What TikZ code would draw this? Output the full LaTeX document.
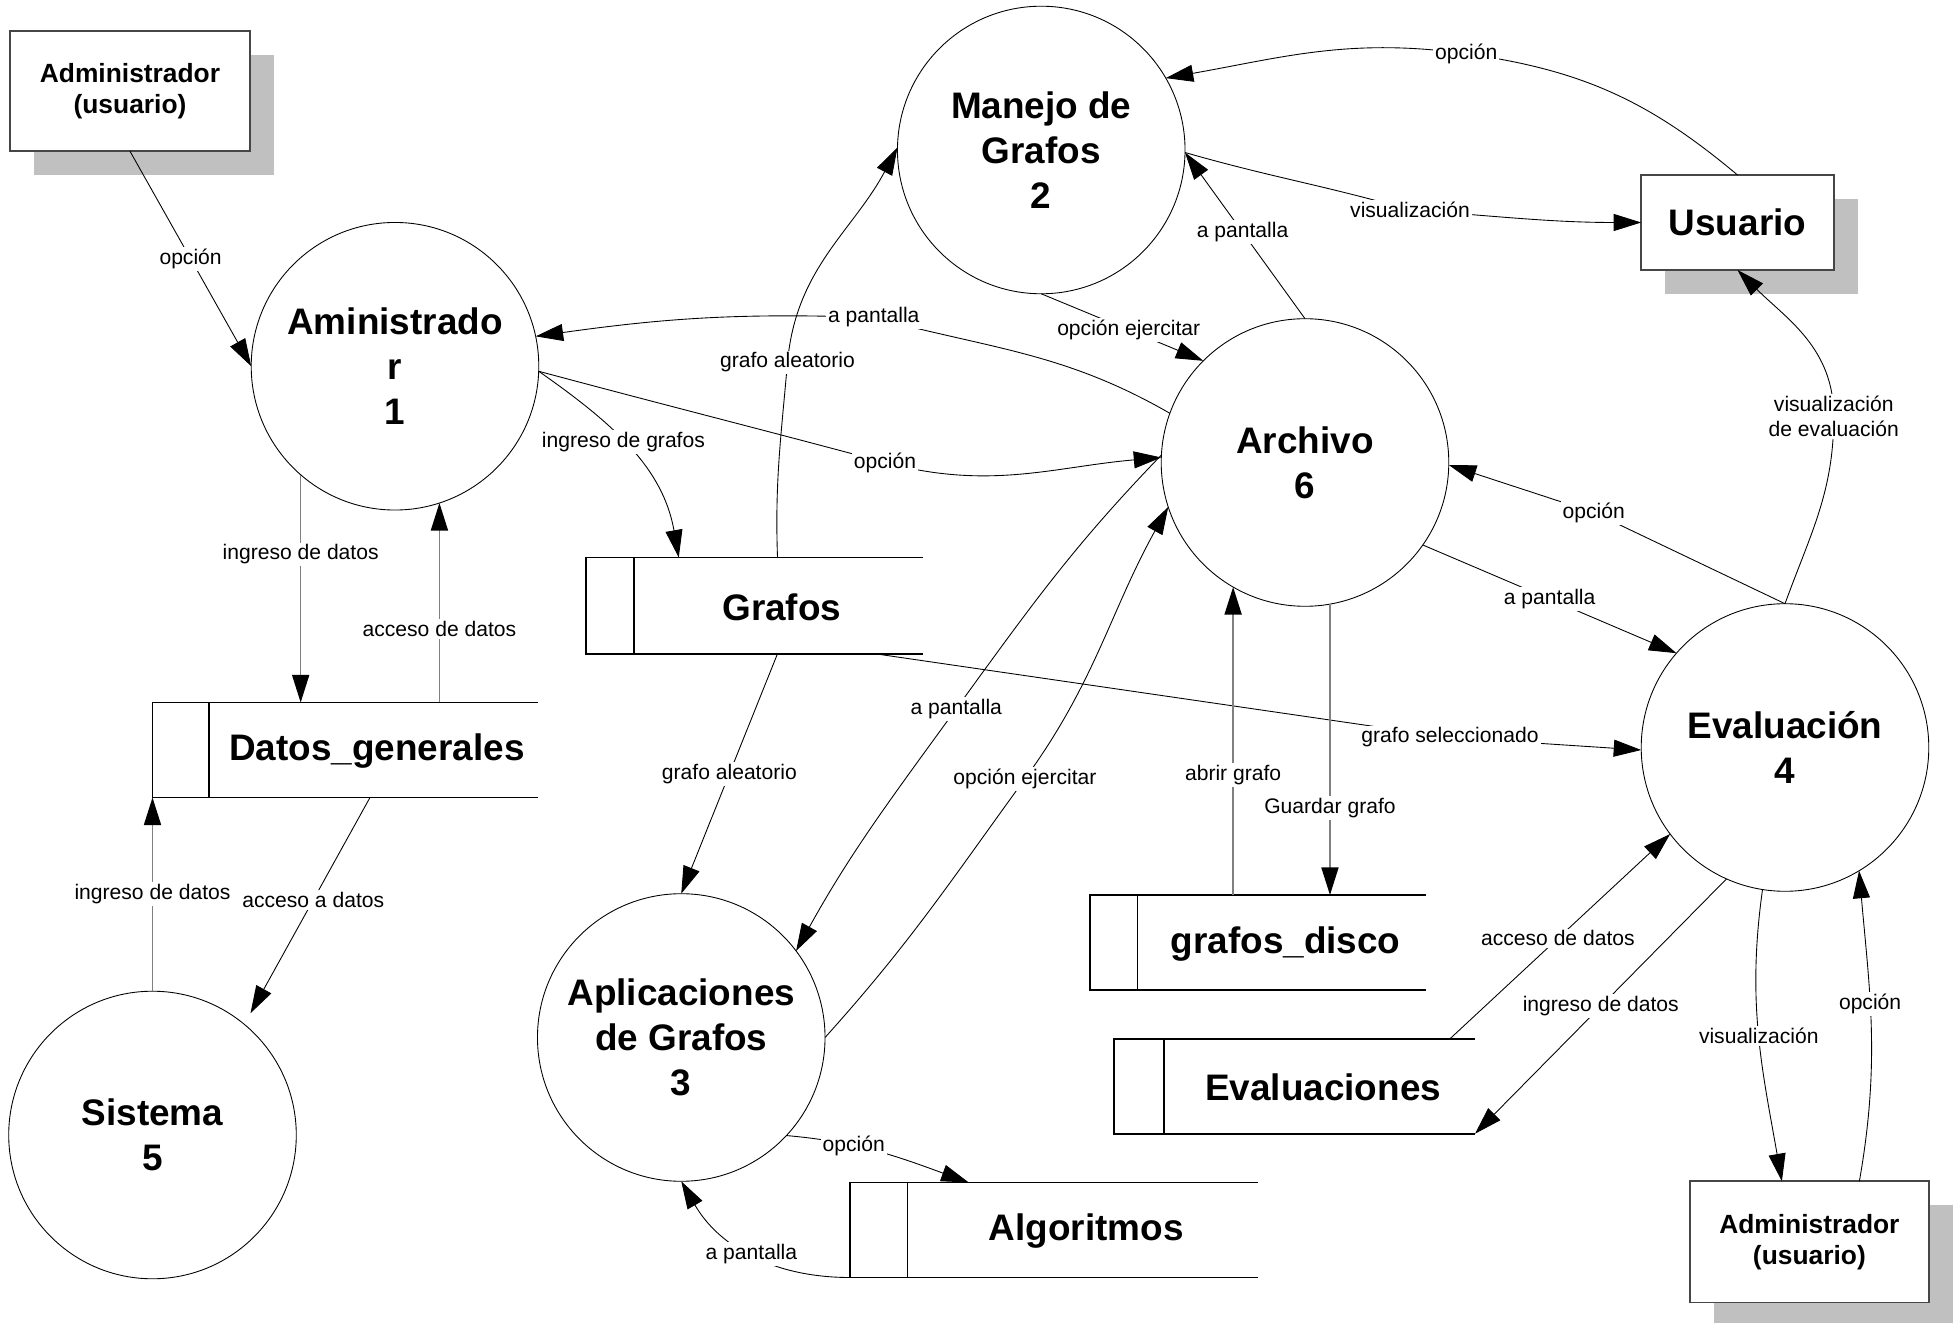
\documentclass[tikz,border=0pt]{standalone}
\usepackage{fontspec}
\setmainfont{Liberation Sans}
\usetikzlibrary{arrows.meta,calc,fit,shadows}

\definecolor{shadowgray}{RGB}{192,192,192}
\definecolor{flowgray}{RGB}{128,128,128}
\definecolor{boxline}{RGB}{70,70,70}

\newcommand\labfont{\fontsize{12}{14.2}\selectfont}
\newcommand\procfont{\bfseries\fontsize{21}{25.5}\selectfont}
\newcommand\extfont{\bfseries\fontsize{15}{17.7}\selectfont}

\tikzset{
  proc/.style={circle, draw, line width=0.5pt, minimum size=5.75cm, inner sep=0pt,
    outer sep=0pt, align=center, font=\procfont},
  ext/.style={draw=boxline, line width=0.9pt, fill=white, align=center, inner sep=0pt,
    outer sep=0pt, drop shadow={shadow xshift=0.475cm, shadow yshift=-0.475cm,
    fill=shadowgray, opacity=1}},
  lab/.style={fill=white, inner sep=1.2pt, font=\labfont, align=center},
  flow/.style={-{Triangle[length=0.55cm, width=0.34cm, color=black]}, line width=0.5pt, draw=black},
  grayflow/.style={flow, draw=flowgray, line width=0.9pt},
  storeline/.style={line width=1.1pt, draw=black},
  storetext/.style={font=\procfont},
}

% data store: name, x1, y1, x2, y2, divider x, title
\newcommand\datastore[7]{%
  \node[fit={(#2,#3) (#4,#5)}, inner sep=0pt, outer sep=0pt] (#1) {};
  \draw[storeline] (#1.north east) -- (#1.north west) -- (#1.south west) -- (#1.south east);
  \draw[storeline] (#6,#3) -- (#6,#5);
  \node[storetext] (#1-t) at ({0.5*(#6)+0.5*(#4)+3},{0.5*(#3)+0.5*(#5)-1}) {#7};
}

\begin{document}
\begin{tikzpicture}[x=0.025cm, y=0.025cm]
\useasboundingbox (0,0) rectangle (1568,-1058.4);

% processes
\node[proc] (p1) at (316,-293) {Aministrado\\r\\1};
\node[proc] (p2) at (833,-120) {Manejo de\\Grafos\\2};
\node[proc] (p3) at (545,-830) {Aplicaciones\\de Grafos\\3};
\node[proc] (p4) at (1428,-598) {Evaluación\\4};
\node[proc] (p5) at (122,-908) {Sistema\\5};
\node[proc] (p6) at (1044,-370) {Archivo\\6};

% external entities
\node[ext, minimum width=4.8cm, minimum height=2.4cm, font=\extfont] (e1) at (104,-73) {Administrador\\(usuario)};
\node[ext, minimum width=3.85cm, minimum height=1.9cm, font=\procfont] (e2) at (1390,-178) {Usuario};
\node[ext, minimum width=4.775cm, minimum height=2.425cm, font=\extfont] (e3) at (1447.5,-993.5) {Administrador\\(usuario)};

% data stores
\datastore{sg}{469}{-446}{738}{-523}{507}{Grafos}
\datastore{sd}{122}{-562}{430}{-638}{167}{Datos\_generales}
\datastore{sk}{872}{-716}{1141}{-792}{910}{grafos\_disco}
\datastore{se}{891}{-831}{1180}{-907}{931}{Evaluaciones}
\datastore{sa}{680}{-946}{1006}{-1022}{726}{Algoritmos}

% Administrador -> Aministrador
\draw[flow] (e1.south) -- node[lab, pos=0.5] {opción} (p1.180);

% Aministrador <-> Datos_generales
\draw[grayflow] (p1.229) -- node[lab, pos=0.35] {ingreso de datos} (p1.229 |- sd.north);
\draw[grayflow] (p1.288 |- sd.north) -- node[lab, pos=0.37] {acceso de datos} (p1.288);

% Sistema <-> Datos_generales
\draw[grayflow] (p5.north) -- node[lab, pos=0.5] {ingreso de datos} (p5.north |- sd.south);
\draw[flow] ($(sd.south west)+(174,0)$) -- node[lab, pos=0.475] {acceso a datos} ($(p5.51)+(6,8)$);

% Aministrador -> Grafos, Archivo
\draw[flow] (p1.-2) to[out=-35, in=100] node[lab, pos=0.45] {ingreso de grafos} ($(sg.north west)+(74,0)$);
\draw[flow] (p1.-2) to[out=-15, in=165] (708,-370) node[lab] {opción} to[out=-15, in=185] (p6.178);

% Archivo -> Aministrador
\draw[flow] (p6.160) to[out=150, in=-15] (699,-254) node[lab] {a pantalla} to[out=178, in=8] (p1.12);

% Grafos -> Manejo de Grafos
\draw[flow] ($(sg.north west)+(153,0)$) to[out=92, in=265] (630,-290) node[lab] {grafo aleatorio} to[out=85, in=242] (p2.179);

% Usuario <-> Manejo de Grafos
\draw[flow] (e2.north) to[out=140, in=-8] (1173,-43) node[lab] {opción} to[out=172, in=10] (p2.30);
\draw[flow] (p2.-1) to[out=-16, in=164] (1128,-168) node[lab] {visualización} to[out=-4, in=180] (e2.west);

% Archivo <-> Manejo de Grafos
\draw[flow] (p6.north) -- node[lab, pos=0.52] {a pantalla} (p2.-1);
\draw[flow] (p2.270) -- node[lab, pos=0.54] {opción ejercitar} (p6.135);

% Archivo <-> Evaluacion
\draw[flow] (p6.-35) -- node[lab, pos=0.5] {a pantalla} (p4.139);
\draw[flow] (p4.90) -- (1275,-410) node[lab] {opción} -- (p6.-1);

% Evaluacion -> Usuario
\draw[flow] (p4.90) to[out=70, in=-90] (1467,-333) node[lab] {visualización\\de evaluación} to[out=90, in=-45] (e2.south);

% Grafos -> Evaluacion, Aplicaciones
\draw[flow] ($(sg.south east)+(-38,0)$) -- (1160,-590) node[lab] {grafo seleccionado} -- (p4.181);
\draw[flow] ($(sg.south west)+(153,0)$) -- node[lab, pos=0.5] {grafo aleatorio} (p3.90);

% Archivo <-> Aplicaciones
\draw[flow] (p6.177) to[out=226, in=54] (765,-567) node[lab] {a pantalla} to[out=234, in=61] (p3.37);
\draw[flow] (p3.0) to[out=48, in=234] (820,-623) node[lab] {opción ejercitar} to[out=54, in=241] (p6.198);

% Archivo <-> grafos_disco
\draw[grayflow] (p6.-80) -- node[lab, pos=0.70] {Guardar grafo} (p6.-80 |- sk.north);
\draw[grayflow] (p6.240 |- sk.north) -- node[lab, pos=0.39] {abrir grafo} (p6.240);

% Evaluaciones <-> Evaluacion
\draw[flow] ($(se.north east)+(-20,0)$) -- node[lab, pos=0.49] {acceso de datos} (p4.217);
\draw[flow] (p4.246) -- node[lab, pos=0.5] {ingreso de datos} (se.south east);

% Evaluacion <-> Administrador
\draw[flow] (p4.261) to[out=262, in=100] node[lab, pos=0.5] {visualización} ($(e3.north)+(-22,0)$);
\draw[flow] ($(e3.north)+(40,0)$) to[out=80, in=275] node[lab, pos=0.58] {opción} (p4.301);

% Aplicaciones <-> Algoritmos
\draw[flow] (p3.-43) to[out=-5, in=160] node[lab, pos=0.35] {opción} ($(sa.north west)+(95,0)$);
\draw[flow] (sa.south west) to[out=180, in=-60] node[lab, pos=0.5] {a pantalla} (p3.270);

\end{tikzpicture}
\end{document}
